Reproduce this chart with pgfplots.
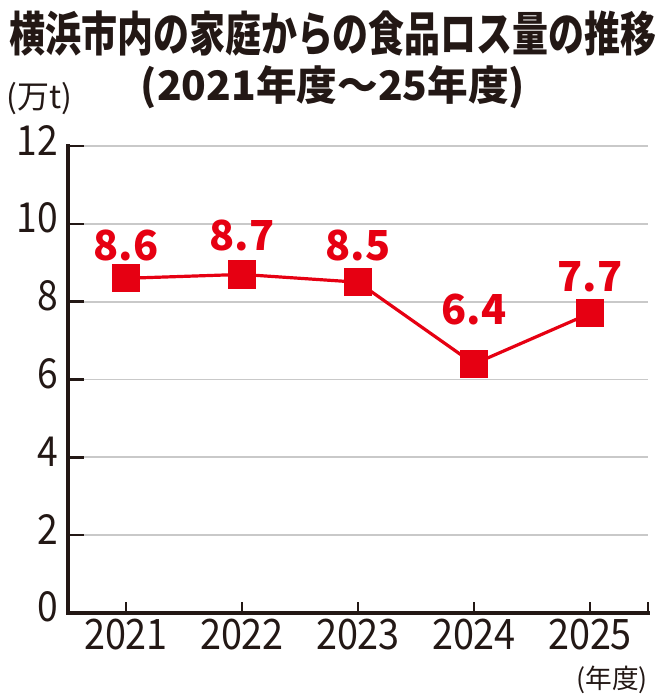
\documentclass[border=0pt]{standalone}
\usepackage{fontspec}
\setmainfont{Noto Sans CJK JP}
\newfontfamily\ttlfont{Noto Sans CJK JP}[FakeStretch=0.76]
\newfontfamily\ticfont{Noto Sans CJK JP}[FakeStretch=0.9]
\usepackage{pgfplots}
\usepackage{pgfplotstable}
\pgfplotsset{compat=1.18}

\definecolor{chartred}{HTML}{E60012}
\definecolor{ink}{HTML}{231815}
\definecolor{gridgray}{HTML}{C9C9C9}

% year index, value, label, label offset (pt)
\pgfplotstableread{
x y lab dy
0 8.6 8.6 24.75
1 8.7 8.7 29.25
2 8.5 8.5 27.75
3 6.4 6.4 40.5
4 7.7 7.7 27.75
}\losstable

\pgfplotsset{
  base/.style={
    at={(0,0)}, anchor=south west, scale only axis,
    width=435pt, height=350.25pt,
    xmin=-0.5, xmax=4.5, ymin=0, ymax=12,
    every outer x axis line/.append style={-, line width=2.4pt, ink, line cap=rect},
    every outer y axis line/.append style={-, line width=2.4pt, ink, line cap=rect},
    axis line style={-, line width=2.4pt, ink, line cap=rect},
    tick align=inside,
    major tick style={line width=1.9pt, ink},
    /pgf/number format/assume math mode=true,
  }
}

\begin{document}
\begin{tikzpicture}[x=0.75pt,y=0.75pt]
\path[use as bounding box] (-68,-87) rectangle (597,613);

% y axis and grid
\begin{axis}[
  axis x line=none, axis y line=left, base,
  ytick={0,2,...,12}, yticklabels={0,2,4,6,8,10,12},
  major tick length=12pt,
  ymajorgrids, grid style={gridgray, line width=1.3pt},
  yticklabel style={font=\ticfont\fontsize{31}{31}\selectfont, text=ink,
    anchor=east, inner sep=0pt, xshift=-7.5pt, yshift=4.5pt},
]
\end{axis}

% x axis and data
\begin{axis}[
  axis y line=none, axis x line=bottom, base,
  xtick={0,1,2,3,4}, xticklabels={2021,2022,2023,2024,2025},
  extra x ticks={4.5}, extra x tick style={xticklabel={}},
  major tick length=8.25pt,
  xticklabel style={font=\ticfont\fontsize{31.5}{31.5}\selectfont, text=ink,
    anchor=north, inner sep=0pt, yshift=-4.5pt},
  clip=false,
]
\addplot[chartred, line width=2.4pt, mark=square*, mark size=9.4pt,
  mark options={draw=none, fill=chartred},
  nodes near coords, point meta=explicit symbolic,
  visualization depends on={\thisrow{dy}\as\dy},
  every node near coord/.append style={font=\bfseries\fontsize{31}{31}\selectfont,
    text=chartred, anchor=center, inner sep=0pt, yshift=\dy pt}]
  table[x=x, y=y, meta=lab] {\losstable};
\end{axis}

\node[font=\ttlfont\bfseries\fontsize{35.5}{36}\selectfont, text=ink, inner sep=0pt]
  at (265,579.5) {横浜市内の家庭からの食品ロス量の推移};
\node[font=\bfseries\fontsize{30.5}{31}\selectfont, text=ink, inner sep=0pt]
  at (265,525.5) {(2021年度～25年度)};
\node[font=\fontsize{24}{24}\selectfont, text=ink, inner sep=0pt]
  at (-28.5,514) {(万t)};
\node[font=\fontsize{20}{20}\selectfont, text=ink, inner sep=0pt]
  at (544,-66.5) {(年度)};
\end{tikzpicture}
\end{document}
